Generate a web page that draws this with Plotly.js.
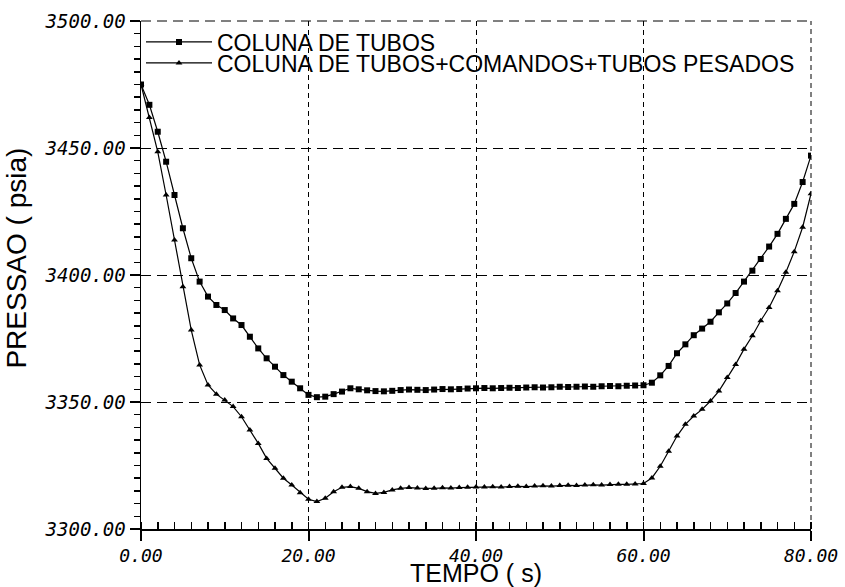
<!DOCTYPE html>
<html>
<head>
<meta charset="utf-8">
<script src="https://cdn.plot.ly/plotly-3.0.1.min.js"></script>
<style>
  html, body { margin: 0; padding: 0; background: #fff; }
  #chart { width: 845px; height: 587px; }
</style>
</head>
<body>
<div id="chart"></div>
<script>
// Sampling instants (s)
const tempo = [
  0, 1, 2, 3, 4, 5, 6, 7, 8, 9,
  10, 11, 12, 13, 14, 15, 16, 17, 18, 19,
  20, 21, 22, 23, 24, 25, 26, 27, 28, 29,
  30, 31, 32, 33, 34, 35, 36, 37, 38, 39,
  40, 41, 42, 43, 44, 45, 46, 47, 48, 49,
  50, 51, 52, 53, 54, 55, 56, 57, 58, 59,
  60, 61, 62, 63, 64, 65, 66, 67, 68, 69,
  70, 71, 72, 73, 74, 75, 76, 77, 78, 79,
  80
];

// Pressure (psia) - drill pipe string only
const pressaoTubos = [
  3475.0, 3467.0, 3456.4, 3444.6, 3431.5, 3418.4, 3406.6, 3397.4, 3391.5, 3388.2,
  3386.2, 3382.9, 3380.3, 3375.7, 3371.1, 3367.2, 3363.9, 3360.6, 3358.0, 3355.4,
  3352.8, 3351.9, 3352.1, 3353.1, 3354.1, 3355.4, 3355.0, 3354.6, 3354.3, 3354.2,
  3354.4, 3354.7, 3354.9, 3354.8, 3354.7, 3354.9, 3355.1, 3355.0, 3355.1, 3355.3,
  3355.4, 3355.5, 3355.4, 3355.5, 3355.6, 3355.5, 3355.7, 3355.8, 3355.7, 3355.8,
  3356.0, 3355.9, 3356.0, 3356.1, 3356.0, 3356.2, 3356.3, 3356.2, 3356.4, 3356.5,
  3356.6, 3357.6, 3360.5, 3364.2, 3369.2, 3372.7, 3376.3, 3378.9, 3381.6, 3385.3,
  3388.8, 3392.9, 3397.4, 3401.7, 3406.3, 3411.2, 3416.2, 3422.1, 3428.0, 3436.6,
  3447.0
];

// Pressure (psia) - pipe + drill collars + heavy-weight pipe
const pressaoCompleta = [
  3475.0, 3462.0, 3448.5, 3431.5, 3413.8, 3395.4, 3378.3, 3364.6, 3356.7, 3353.1,
  3350.8, 3348.2, 3344.2, 3339.0, 3333.7, 3327.8, 3323.9, 3320.0, 3317.3, 3314.3,
  3311.7, 3310.8, 3312.1, 3314.7, 3316.4, 3316.7, 3316.0, 3314.7, 3314.0, 3314.4,
  3315.4, 3316.0, 3316.3, 3316.1, 3315.9, 3316.0, 3316.2, 3316.1, 3316.3, 3316.4,
  3316.5, 3316.5, 3316.6, 3316.5, 3316.7, 3316.8, 3316.7, 3316.9, 3317.0, 3316.9,
  3317.1, 3317.2, 3317.1, 3317.3, 3317.4, 3317.3, 3317.5, 3317.6, 3317.6, 3317.7,
  3317.9, 3320.1, 3324.7, 3330.6, 3336.6, 3341.2, 3344.5, 3347.1, 3350.4, 3354.3,
  3359.6, 3364.8, 3370.8, 3376.1, 3382.0, 3387.2, 3393.8, 3401.1, 3409.2, 3418.8,
  3432.0
];

const serieNomes = [
  'COLUNA DE TUBOS',
  'COLUNA DE TUBOS+COMANDOS+TUBOS PESADOS'
];

const xTickVals = [0, 20, 40, 60, 80];
const xTickText = ['0.00', '20.00', '40.00', '60.00', '80.00'];
const yTickVals = [3300, 3350, 3400, 3450, 3500];
const yTickText = ['3300.00', '3350.00', '3400.00', '3450.00', '3500.00'];

const xRange = [xTickVals[0], xTickVals[xTickVals.length - 1]];
const yRange = [yTickVals[0], yTickVals[yTickVals.length - 1]];

// map the plain tick labels onto the two-decimal texts
function aliasFor(vals, texts) {
  const out = {};
  vals.forEach((v, i) => { out[String(v)] = texts[i]; });
  return out;
}

const tickFontY = { family: 'DejaVu Sans Mono, monospace', size: 19, color: '#000', style: 'italic' };
const tickFontX = { family: 'DejaVu Sans Mono, monospace', size: 18, color: '#000', style: 'italic' };
const textFamily = 'Liberation Sans, Arial, sans-serif';

const traces = [
  {
    x: tempo, y: pressaoTubos, name: serieNomes[0],
    type: 'scatter', mode: 'lines+markers',
    line: { color: '#000', width: 1.2 },
    marker: { symbol: 'square', size: 6, color: '#000' },
    legend: 'legend'
  },
  {
    x: tempo, y: pressaoCompleta, name: serieNomes[1],
    type: 'scatter', mode: 'lines+markers',
    line: { color: '#000', width: 1.2 },
    marker: { symbol: 'triangle-up', size: 6, color: '#000' },
    legend: 'legend2'
  }
];

const legendBase = {
  x: 0.0, xanchor: 'left', yanchor: 'middle',
  bgcolor: 'rgba(0,0,0,0)', borderwidth: 0,
  font: { family: textFamily, size: 23, color: '#000' }, itemwidth: 66
};

const layout = {
  width: 845, height: 587,
  margin: { l: 141, r: 34, t: 21, b: 58 },
  paper_bgcolor: '#fff', plot_bgcolor: '#fff',
  showlegend: true,
  legend: Object.assign({}, legendBase, { y: 0.9587 }),
  legend2: Object.assign({}, legendBase, { y: 0.9173 }),
  xaxis: {
    range: xRange, tickmode: 'linear', tick0: xTickVals[0], dtick: xTickVals[1] - xTickVals[0],
    labelalias: aliasFor(xTickVals, xTickText),
    tickfont: tickFontX, ticks: 'outside', ticklen: 10, tickwidth: 2, tickcolor: '#000',
    showline: true, linecolor: '#000', linewidth: 1.5,
    showgrid: true, gridcolor: '#000', gridwidth: 1, griddash: '5px,4px',
    zeroline: false,
    minor: { dtick: 2, ticks: 'inside', ticklen: 7, tickwidth: 1.5, tickcolor: '#000' },
    title: { text: 'TEMPO ( s)', font: { family: textFamily, size: 25, color: '#000' }, standoff: 6 }
  },
  yaxis: {
    range: yRange, tickmode: 'linear', tick0: yTickVals[0], dtick: yTickVals[1] - yTickVals[0],
    labelalias: aliasFor(yTickVals, yTickText),
    tickfont: tickFontY, ticks: 'outside', ticklen: 10, tickwidth: 2, tickcolor: '#000',
    showline: true, linecolor: '#000', linewidth: 1.5,
    showgrid: true, gridcolor: '#000', gridwidth: 1, griddash: '10px,6px',
    zeroline: false,
    minor: { dtick: 5, ticks: 'outside', ticklen: 6, tickwidth: 1.5, tickcolor: '#000' }
  },
  // dashed frame on the top and right edges of the plot area
  shapes: [
    { type: 'line', xref: 'paper', yref: 'paper', x0: 0, x1: 1, y0: 1, y1: 1, line: { color: '#000', width: 1, dash: '10px,6px' }, layer: 'above' },
    { type: 'line', xref: 'paper', yref: 'paper', x0: 1, x1: 1, y0: 0, y1: 1, line: { color: '#000', width: 1, dash: '5px,4px' }, layer: 'above' }
  ],
  annotations: [
    {
      text: 'PRESSAO ( psia)', textangle: -90,
      xref: 'paper', yref: 'paper', x: -0.186, y: 0.533,
      xanchor: 'center', yanchor: 'middle', showarrow: false,
      font: { family: textFamily, size: 28, color: '#000' }
    }
  ]
};

Plotly.newPlot('chart', traces, layout, { staticPlot: true, displayModeBar: false });
</script>
</body>
</html>
